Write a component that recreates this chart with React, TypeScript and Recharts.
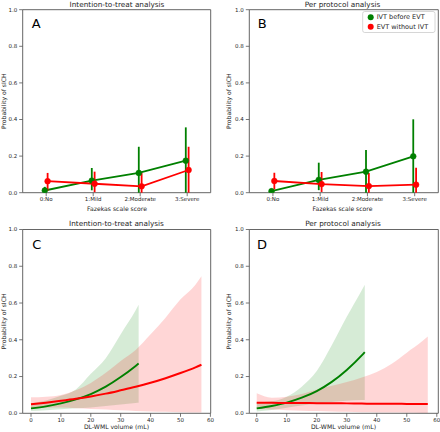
import {
  ComposedChart, Line, Area, XAxis, YAxis, ErrorBar, ReferenceArea,
} from 'recharts';

const FONT = '"DejaVu Sans", sans-serif';
const GREEN = '#008000';
const RED = '#ff0000';
const SPINE = '#555555';
const INK = '#262626';

// A / B : probability by Fazekas score (point estimate + CI)
const fazekas = ['0:No', '1:Mild', '2:Moderate', '3:Severe'];

const ittIvt = [0.012, 0.066, 0.108, 0.175];
const ittIvtLo = [0, 0.013, 0, 0];
const ittIvtHi = [0.032, 0.135, 0.251, 0.357];
const ittEvt = [0.063, 0.049, 0.035, 0.124];
const ittEvtLo = [0.01, 0.003, 0, 0];
const ittEvtHi = [0.108, 0.115, 0.108, 0.251];

const ppIvt = [0.008, 0.07, 0.115, 0.199];
const ppIvtLo = [0, 0.014, 0, 0];
const ppIvtHi = [0.022, 0.164, 0.233, 0.401];
const ppEvt = [0.064, 0.047, 0.036, 0.044];
const ppEvtLo = [0.018, 0.004, 0, 0];
const ppEvtHi = [0.109, 0.113, 0.108, 0.137];

// C / D : probability by DL-WML volume (fitted curve + CI band)
const volIvt = [0, 5, 10, 15, 20, 25, 30, 35, 36];
const volEvt = [0, 5, 10, 15, 20, 25, 30, 35, 40, 45, 50, 55, 57];

const cIvt = [0.027, 0.038, 0.054, 0.076, 0.105, 0.145, 0.197, 0.258, 0.271];
const cIvtLo = [0.012, 0.017, 0.022, 0.027, 0.032, 0.04, 0.048, 0.056, 0.057];
const cIvtHi = [0.055, 0.07, 0.095, 0.13, 0.215, 0.3, 0.43, 0.56, 0.59];
const cEvt = [0.049, 0.058, 0.068, 0.079, 0.092, 0.107, 0.125, 0.144, 0.166, 0.191, 0.219, 0.25, 0.264];
const cEvtLo = [0.027, 0.03, 0.031, 0.028, 0.024, 0.02, 0.016, 0.013, 0.01, 0.008, 0.006, 0.004, 0.004];
const cEvtHi = [0.087, 0.09, 0.1, 0.125, 0.165, 0.22, 0.285, 0.345, 0.43, 0.52, 0.62, 0.7, 0.745];

const dIvt = [0.027, 0.04, 0.058, 0.085, 0.121, 0.171, 0.236, 0.315, 0.333];
const dIvtLo = [0.01, 0.018, 0.03, 0.042, 0.053, 0.062, 0.068, 0.072, 0.073];
const dIvtHi = [0.06, 0.065, 0.09, 0.145, 0.23, 0.37, 0.525, 0.67, 0.7];
const dEvt = [0.057, 0.057, 0.056, 0.056, 0.055, 0.055, 0.054, 0.053, 0.052, 0.052, 0.051, 0.05, 0.05];
const dEvtLo = [0.025, 0.02, 0.017, 0.014, 0.012, 0.01, 0.008, 0.006, 0.005, 0.004, 0.003, 0.002, 0.002];
const dEvtHi = [0.109, 0.085, 0.09, 0.105, 0.13, 0.15, 0.17, 0.195, 0.225, 0.27, 0.33, 0.39, 0.418];

const yTicks = [0, 0.2, 0.4, 0.6, 0.8, 1.0];
const volTicks = [0, 10, 20, 30, 40, 50, 60];
const DODGE = 0.03;

const tickStyle = { fontSize: 5.5, fill: INK, fontFamily: FONT };

function YAx({ width }: { width: number }) {
  return (
    <YAxis
      type="number"
      domain={[0, 1]}
      ticks={yTicks}
      allowDataOverflow
      width={width}
      tickFormatter={(v: number) => v.toFixed(1)}
      tick={tickStyle}
      tickSize={3.5}
      tickMargin={2}
      tickLine={{ stroke: SPINE, strokeWidth: 0.8 }}
      axisLine={false}
    />
  );
}

interface FazProps {
  left: number; yw: number; right: number; domain: [number, number];
  ivt: number[]; ivtLo: number[]; ivtHi: number[];
  evt: number[]; evtLo: number[]; evtHi: number[];
}

function FazekasPanel({ left, yw, right, domain, ivt, ivtLo, ivtHi, evt, evtLo, evtHi }: FazProps) {
  const green = fazekas.map((_, i) => ({ x: i - DODGE, p: ivt[i], err: [ivt[i] - ivtLo[i], ivtHi[i] - ivt[i]] }));
  const red = fazekas.map((_, i) => ({ x: i + DODGE, p: evt[i], err: [evt[i] - evtLo[i], evtHi[i] - evt[i]] }));
  return (
    <div style={{ position: 'absolute', left, top: 0 }}>
      <ComposedChart width={220} height={216} margin={{ top: 9.7, right, bottom: 0, left: 0 }}>
        <XAxis
          type="number" dataKey="x" domain={domain} ticks={[0, 1, 2, 3]} allowDataOverflow
          tickFormatter={(i: number) => fazekas[i] ?? ''}
          height={23.3} tick={tickStyle} tickSize={3.5} tickMargin={1}
          tickLine={{ stroke: SPINE, strokeWidth: 0.8 }} axisLine={false}
        />
        <YAx width={yw} />
        <ReferenceArea x1={domain[0]} x2={domain[1]} y1={0} y2={1} fill="#fff" fillOpacity={0} stroke={SPINE} strokeWidth={0.9} />
        <Line data={green} dataKey="p" type="linear" stroke={GREEN} strokeWidth={1.8}
          dot={{ r: 2.9, fill: GREEN, stroke: GREEN, strokeWidth: 0.5 }} activeDot={false} isAnimationActive={false}>
          <ErrorBar dataKey="err" direction="y" width={0} stroke={GREEN} strokeWidth={1.8} isAnimationActive={false} />
        </Line>
        <Line data={red} dataKey="p" type="linear" stroke={RED} strokeWidth={1.8}
          dot={{ r: 2.9, fill: RED, stroke: RED, strokeWidth: 0.5 }} activeDot={false} isAnimationActive={false}>
          <ErrorBar dataKey="err" direction="y" width={0} stroke={RED} strokeWidth={1.8} isAnimationActive={false} />
        </Line>
      </ComposedChart>
    </div>
  );
}

interface VolProps {
  left: number; yw: number; right: number; domain: [number, number];
  ivt: number[]; ivtLo: number[]; ivtHi: number[];
  evt: number[]; evtLo: number[]; evtHi: number[];
}

function VolumePanel({ left, yw, right, domain, ivt, ivtLo, ivtHi, evt, evtLo, evtHi }: VolProps) {
  const green = volIvt.map((x, i) => ({ x, p: ivt[i], band: [ivtLo[i], ivtHi[i]] }));
  const red = volEvt.map((x, i) => ({ x, p: evt[i], band: [evtLo[i], evtHi[i]] }));
  return (
    <div style={{ position: 'absolute', left, top: 216 }}>
      <ComposedChart width={220} height={216} margin={{ top: 13.5, right, bottom: 0, left: 0 }}>
        <XAxis
          type="number" dataKey="x" domain={domain} ticks={volTicks} allowDataOverflow
          height={18.7} tick={tickStyle} tickSize={3.5} tickMargin={1}
          tickLine={{ stroke: SPINE, strokeWidth: 0.8 }} axisLine={false}
        />
        <YAx width={yw} />
        <Area data={green} dataKey="band" type="monotone" stroke="none" fill={GREEN} fillOpacity={0.16}
          activeDot={false} isAnimationActive={false} />
        <Area data={red} dataKey="band" type="monotone" stroke="none" fill={RED} fillOpacity={0.16}
          activeDot={false} isAnimationActive={false} />
        <Line data={green} dataKey="p" type="monotone" stroke={GREEN} strokeWidth={1.9} dot={false}
          activeDot={false} isAnimationActive={false} />
        <Line data={red} dataKey="p" type="monotone" stroke={RED} strokeWidth={2} dot={false}
          activeDot={false} isAnimationActive={false} />
        <ReferenceArea x1={domain[0]} x2={domain[1]} y1={0} y2={1} fill="#fff" fillOpacity={0} stroke={SPINE} strokeWidth={0.9} />
      </ComposedChart>
    </div>
  );
}

function Overlay() {
  const t = { fontFamily: FONT, fill: INK };
  return (
    <svg width={440} height={432} style={{ position: 'absolute', left: 0, top: 0, pointerEvents: 'none' }}>
      <text x={117} y={6.8} textAnchor="middle" fontSize={7.3} {...t}>Intention-to-treat analysis</text>
      <text x={342.5} y={6.8} textAnchor="middle" fontSize={7.3} {...t}>Per protocol analysis</text>
      <text x={116.5} y={226} textAnchor="middle" fontSize={7.3} {...t}>Intention-to-treat analysis</text>
      <text x={343} y={226} textAnchor="middle" fontSize={7.3} {...t}>Per protocol analysis</text>

      <text x={31.7} y={28.3} fontSize={13} {...t} fill="#000">A</text>
      <text x={257.7} y={28.3} fontSize={13} {...t} fill="#000">B</text>
      <text x={32.3} y={249.3} fontSize={13} {...t} fill="#000">C</text>
      <text x={257} y={248.7} fontSize={13} {...t} fill="#000">D</text>

      <text x={117} y={210.5} textAnchor="middle" fontSize={6.1} {...t}>Fazekas scale score</text>
      <text x={342.5} y={210.5} textAnchor="middle" fontSize={6.1} {...t}>Fazekas scale score</text>
      <text x={116.5} y={429} textAnchor="middle" fontSize={6.1} {...t}>DL-WML volume (mL)</text>
      <text x={343.5} y={429} textAnchor="middle" fontSize={6.1} {...t}>DL-WML volume (mL)</text>

      {[[6, 101.2], [231, 101.2], [6, 321.4], [231, 321.4]].map(([x, y], i) => (
        <text key={i} x={x} y={y} transform={`rotate(-90 ${x} ${y})`} textAnchor="middle" fontSize={6.1} {...t}>
          Probability of sICH
        </text>
      ))}

      <rect x={362.7} y={11.5} width={72.3} height={21} rx={2} fill="#fff" fillOpacity={0.85} stroke="#cccccc" strokeWidth={0.8} />
      <circle cx={370.7} cy={17.3} r={3} fill={GREEN} />
      <circle cx={370.7} cy={26.7} r={3} fill={RED} />
      <text x={376.7} y={19.4} fontSize={6.5} {...t}>IVT before EVT</text>
      <text x={376.7} y={28.8} fontSize={6.5} {...t}>EVT without IVT</text>
    </svg>
  );
}

export default function App() {
  return (
    <div style={{ position: 'absolute', left: 0, top: 0, width: 440, height: 432, background: '#fff', overflow: 'hidden' }}>
      <FazekasPanel left={0} yw={22.7} right={9.3} domain={[-0.5, 3.5]}
        ivt={ittIvt} ivtLo={ittIvtLo} ivtHi={ittIvtHi} evt={ittEvt} evtLo={ittEvtLo} evtHi={ittEvtHi} />
      <FazekasPanel left={220} yw={29.3} right={1.7} domain={[-0.5, 3.5]}
        ivt={ppIvt} ivtLo={ppIvtLo} ivtHi={ppIvtHi} evt={ppEvt} evtLo={ppEvtLo} evtHi={ppEvtHi} />
      <VolumePanel left={0} yw={22.7} right={9.3} domain={[-2.78, 60.1]}
        ivt={cIvt} ivtLo={cIvtLo} ivtHi={cIvtHi} evt={cEvt} evtLo={cEvtLo} evtHi={cEvtHi} />
      <VolumePanel left={220} yw={29.3} right={1.7} domain={[-2.47, 60.5]}
        ivt={dIvt} ivtLo={dIvtLo} ivtHi={dIvtHi} evt={dEvt} evtLo={dEvtLo} evtHi={dEvtHi} />
      <Overlay />
    </div>
  );
}
